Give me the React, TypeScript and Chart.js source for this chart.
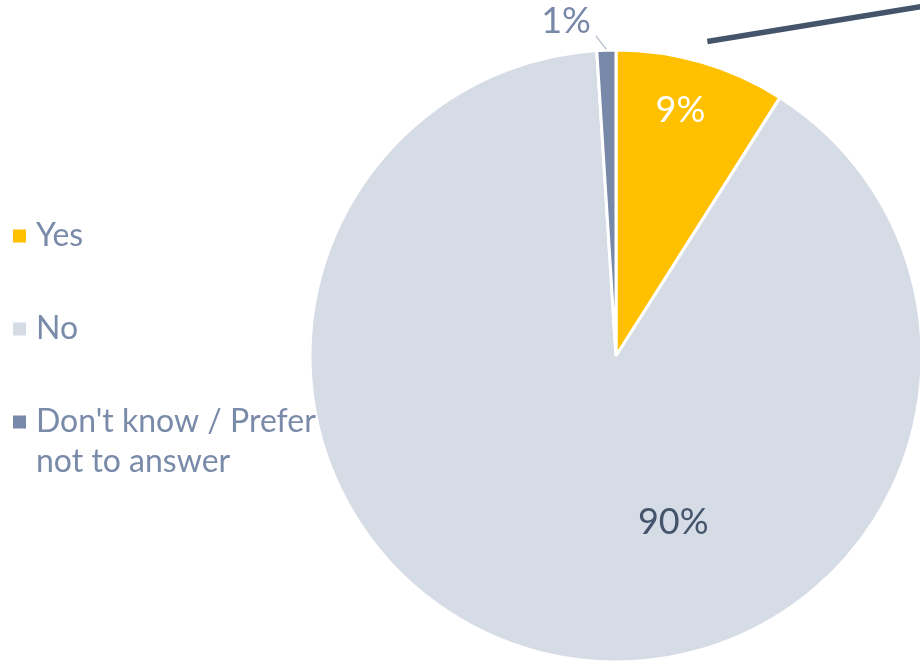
import React, { useEffect, useRef } from "react";
import { Chart, registerables } from "chart.js";
Chart.register(...registerables);

const categories = ["Yes", "No", "Don't know / Prefer not to answer"];
const legendLines = [["Yes"], ["No"], ["Don't know / Prefer", "not to answer"]];
const values = [9, 90, 1];
const valueLabels = ["9%", "90%", "1%"];
const colors = ["#FFC000", "#D6DCE5", "#7888A8"];

// styling for value labels: radius fraction and angle shift (deg) relative to slice middle
const labelStyle = [
  { r: 0.83, shift: -1.5, color: "#FFFFFF" },
  { r: 0.575, shift: -33.4, color: "#44546A" },
  { r: 1.105, shift: -6.7, color: "#7788A8" },
];

const FONT = "Lato, 'Noto Sans', sans-serif";

const overlayPlugin = {
  id: "overlay",
  afterDatasetsDraw(chart: any) {
    const ctx = chart.ctx;
    const meta = chart.getDatasetMeta(0);
    ctx.save();
    meta.data.forEach((arc: any, i: number) => {
      const { x, y, startAngle, endAngle, outerRadius } = arc.getProps(
        ["x", "y", "startAngle", "endAngle", "outerRadius"],
        true
      );
      const mid = (startAngle + endAngle) / 2;
      const st = labelStyle[i];
      const a = mid + (st.shift * Math.PI) / 180;
      const lx = x + Math.cos(a) * outerRadius * st.r;
      const ly = y + Math.sin(a) * outerRadius * st.r;
      ctx.font = `36px ${FONT}`;
      ctx.fillStyle = st.color;
      ctx.textAlign = "center";
      ctx.textBaseline = "middle";
      ctx.fillText(valueLabels[i], lx, ly);

      if (i === 2) {
        // leader line for small slice
        const a2 = mid - (1.8 * Math.PI) / 180;
        ctx.strokeStyle = "#BFC6D2";
        ctx.lineWidth = 1.5;
        ctx.beginPath();
        ctx.moveTo(x + Math.cos(mid) * outerRadius * 1.003, y + Math.sin(mid) * outerRadius * 1.003);
        ctx.lineTo(x + Math.cos(a2) * outerRadius * 1.048, y + Math.sin(a2) * outerRadius * 1.048);
        ctx.stroke();
      }
      if (i === 0) {
        // callout connector line
        const sx = x + Math.cos(mid) * outerRadius * 1.07;
        const sy = y + Math.sin(mid) * outerRadius * 1.07;
        ctx.strokeStyle = "#44546A";
        ctx.lineWidth = 5.5;
        ctx.lineCap = "butt";
        ctx.beginPath();
        ctx.moveTo(sx, sy);
        ctx.lineTo(sx + 260, sy - 42.5);
        ctx.stroke();
      }
    });

    // legend
    const rowY = [236, 329, 422];
    ctx.textAlign = "left";
    ctx.textBaseline = "middle";
    ctx.font = `32px ${FONT}`;
    legendLines.forEach((lines, i) => {
      ctx.fillStyle = colors[i];
      ctx.fillRect(13, rowY[i] - 6.5, 13, 13);
      ctx.fillStyle = "#7A8BA9";
      lines.forEach((t, j) => ctx.fillText(t, 36, rowY[i] + j * 40));
    });
    ctx.restore();
  },
};

export default function App() {
  const ref = useRef<HTMLCanvasElement>(null);
  useEffect(() => {
    if (!ref.current) return;
    const chart = new Chart(ref.current, {
      type: "pie",
      data: {
        labels: categories,
        datasets: [
          {
            data: values,
            backgroundColor: colors,
            borderColor: "#FFFFFF",
            borderWidth: 3,
            radius: 306,
          } as any,
        ],
      },
      options: {
        responsive: false,
        animation: false,
        layout: { padding: 0 },
        plugins: {
          legend: { display: false },
          tooltip: { enabled: false },
        },
      },
      plugins: [overlayPlugin],
    });
    return () => chart.destroy();
  }, []);
  return (
    <div
      style={{
        position: "fixed",
        left: 0,
        top: 0,
        width: 920,
        height: 662,
        overflow: "hidden",
        background: "#FFFFFF",
      }}
    >
      <canvas ref={ref} width={1232} height={712} style={{ display: "block" }} />
    </div>
  );
}
